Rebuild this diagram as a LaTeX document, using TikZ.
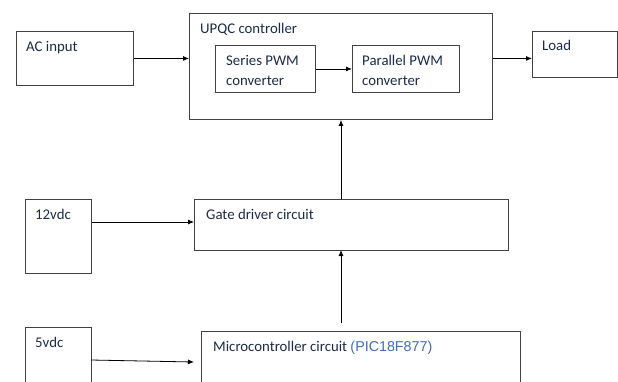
\documentclass[tikz,border=0pt]{standalone}
\usepackage{fontspec}
\setmainfont{Carlito}
\newfontfamily\arialfont{Liberation Sans}
\usetikzlibrary{arrows.meta}
\definecolor{txt}{HTML}{1B2A4A}
\definecolor{pic}{HTML}{3D6DB5}
\definecolor{edge}{HTML}{404040}
\tikzset{
  box/.style={draw=edge, line width=0.9pt, rectangle, anchor=north west, inner sep=0pt},
  lbl/.style={anchor=base west, inner sep=0pt, text=txt, font=\fontsize{14.8}{17}\selectfont},
  conn/.style={draw=black, line width=0.8pt, -{Latex[length=6pt,width=5pt]}}
}
\begin{document}
\begin{tikzpicture}[x=1pt,y=-1pt]
\useasboundingbox (0,0) rectangle (618,381);
\clip (0,0) rectangle (618,381);
% boxes
\node[box, minimum width=117pt, minimum height=54pt] (ac) at (16,31) {};
\node[box, minimum width=303pt, minimum height=106pt] (upqc) at (189,13) {};
\node[box, minimum width=100pt, minimum height=47pt] (series) at (215,45) {};
\node[box, minimum width=107pt, minimum height=47pt] (par) at (352,45) {};
\node[box, minimum width=85pt, minimum height=46pt] (load) at (532,31) {};
\node[box, minimum width=66pt, minimum height=74pt] (v12) at (25,199) {};
\node[box, minimum width=314pt, minimum height=51pt] (gate) at (194,199) {};
\node[box, minimum width=66pt, minimum height=80pt] (v5) at (25,327) {};
\node[box, minimum width=319pt, minimum height=80pt] (micro) at (201,331) {};
% labels
\node[lbl] (tac) at (26,51) {AC input};
\node[lbl] (tupqc) at (200,33) {UPQC controller};
\node[lbl] (tser1) at (226,65) {Series PWM};
\node[lbl] (tser2) at (226,85) {converter};
\node[lbl] (tpar1) at (362,65) {Parallel PWM};
\node[lbl] (tpar2) at (362,85) {converter};
\node[lbl] (tload) at (542,50) {Load};
\node[lbl] (t12) at (35,219) {12vdc};
\node[lbl] (tgate) at (206,219) {Gate driver circuit};
\node[lbl] (t5) at (35,347) {5vdc};
\node[lbl] (tmicro) at (213,351) {Microcontroller circuit {\arialfont\fontsize{14.3}{17}\selectfont\color{pic}(PIC18F877)}};
% helper coordinates
\coordinate (gtop) at (341,199);
\coordinate (gbot) at (341,250);
\coordinate (mtop) at (341,323);
\coordinate (v5out) at (91,360);
\coordinate (mend) at (194,362);
% connectors
\draw[conn] (ac.east) -- (ac.east -| upqc.west);
\draw[conn] (series.east) -- (par.west);
\draw[conn] (upqc.east |- ac.east) -- (load.west |- ac.east);
\draw[conn] (gtop) -- (gtop |- upqc.south);
\draw[conn] (v12.east |- 0,222) -- (gate.west |- 0,222);
\draw[conn] (mtop) -- (gbot);
\draw[conn] (v5out) -- (mend);
\end{tikzpicture}
\end{document}
